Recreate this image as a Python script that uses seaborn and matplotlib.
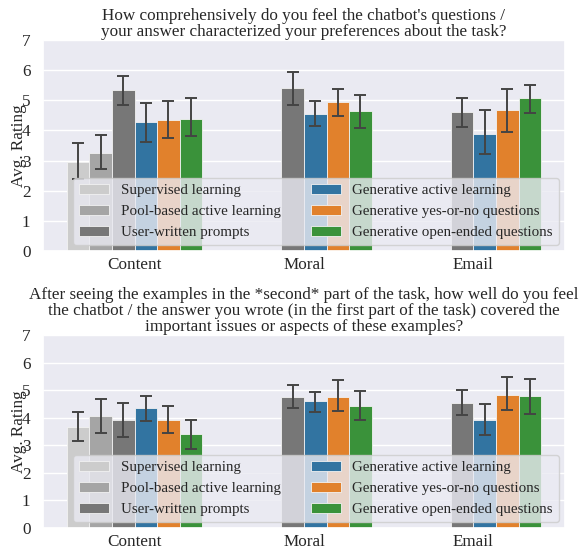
import numpy as np
import pandas as pd
import matplotlib
matplotlib.use("Agg")
import matplotlib.pyplot as plt
import seaborn as sns

tasks = ["Content", "Moral", "Email"]
methods = ["Supervised learning", "Pool-based active learning", "User-written prompts",
           "Generative active learning", "Generative yes-or-no questions",
           "Generative open-ended questions"]
colors = ["#cccccc", "#a5a5a5", "#777777", "#1f77b4", "#ff7f0e", "#2ca02c"]

# Panel 1: mean, lower CI, upper CI (rows = methods, cols = tasks)
p1_mean = [[2.94, np.nan, np.nan],
           [3.24, np.nan, np.nan],
           [5.34, 5.40, 4.61],
           [4.29, 4.56, 3.89],
           [4.35, 4.93, 4.68],
           [4.38, 4.65, 5.06]]
p1_lo = [[2.39, np.nan, np.nan],
         [2.71, np.nan, np.nan],
         [4.85, 4.85, 4.13],
         [3.63, 4.15, 3.21],
         [3.75, 4.48, 3.95],
         [3.81, 4.07, 4.59]]
p1_hi = [[3.57, np.nan, np.nan],
         [3.85, np.nan, np.nan],
         [5.82, 5.93, 5.06],
         [4.92, 4.99, 4.67],
         [4.99, 5.39, 5.39],
         [5.09, 5.18, 5.50]]

p2_mean = [[3.67, np.nan, np.nan],
           [4.07, np.nan, np.nan],
           [3.92, 4.76, 4.54],
           [4.37, 4.59, 3.93],
           [3.92, 4.76, 4.84],
           [3.42, 4.44, 4.78]]
p2_lo = [[3.17, np.nan, np.nan],
         [3.43, np.nan, np.nan],
         [3.29, 4.34, 4.09],
         [3.87, 4.21, 3.36],
         [3.43, 4.25, 4.28],
         [2.85, 3.91, 4.12]]
p2_hi = [[4.19, np.nan, np.nan],
         [4.68, np.nan, np.nan],
         [4.55, 5.19, 5.02],
         [4.80, 4.95, 4.51],
         [4.43, 5.36, 5.49],
         [3.93, 4.98, 5.39]]

title1 = ("How comprehensively do you feel the chatbot's questions /\n"
          "your answer characterized your preferences about the task?")
title2 = ("After seeing the examples in the *second* part of the task, how well do you feel\n"
          "the chatbot / the answer you wrote (in the first part of the task) covered the\n"
          "important issues or aspects of these examples?")

sns.set_theme(style="darkgrid")
plt.rcParams["font.family"] = ["Liberation Serif", "DejaVu Serif"]
FS = 12.3
LFS = 10.8
plt.rcParams["text.color"] = "#262626"


def make_df(mean, lo, hi):
    rows = []
    for mi, m in enumerate(methods):
        for ti, t in enumerate(tasks):
            if not np.isnan(mean[mi][ti]):
                rows.append(dict(task=t, method=m, rating=mean[mi][ti],
                                 lo=lo[mi][ti], hi=hi[mi][ti]))
    return pd.DataFrame(rows)


fig = plt.figure(figsize=(5.83, 5.52), dpi=100)
ax1 = fig.add_axes([43 / 583, 1 - 251 / 552, 522 / 583, 211 / 552])
ax2 = fig.add_axes([43 / 583, 1 - 528 / 552, 522 / 583, 193 / 552])

for ax, (mean, lo, hi, title) in zip(
        [ax1, ax2],
        [(p1_mean, p1_lo, p1_hi, title1), (p2_mean, p2_lo, p2_hi, title2)]):
    df = make_df(mean, lo, hi)
    sns.barplot(data=df, x="task", y="rating", hue="method", order=tasks,
                hue_order=methods, palette=colors, errorbar=None, ax=ax,
                edgecolor="#f2f2f2", linewidth=0.6)
    # error bars on the bars seaborn drew
    for cont, m in zip(ax.containers, methods):
        sub = df[df.method == m].set_index("task").reindex(
            [t for t in tasks if t in set(df[df.method == m].task)])
        for bar, (_, r) in zip(cont.patches, sub.iterrows()):
            xc = bar.get_x() + bar.get_width() / 2
            ax.errorbar(xc, r.rating, yerr=[[r.rating - r.lo], [r.hi - r.rating]],
                        color="#444444", lw=1.4, capsize=4.5, capthick=1.4, zorder=3)
    ax.set_ylim(0, 7)
    ax.set_yticks(range(8))
    ax.set_xlabel("")
    ax.set_ylabel("Avg. Rating", fontsize=FS, labelpad=-4)
    ax.tick_params(axis="y", labelsize=FS, pad=3)
    ax.tick_params(axis="x", labelsize=FS, pad=-1.5)
    ax.set_title(title, fontsize=FS, pad=3, linespacing=1.0)
    ax.legend(loc="lower right", ncol=2, fontsize=LFS, borderaxespad=0.4,
              handlelength=2.0, columnspacing=2.0, labelspacing=0.5,
              borderpad=0.4, handletextpad=0.8)

fig.savefig("out.png", dpi=100)
